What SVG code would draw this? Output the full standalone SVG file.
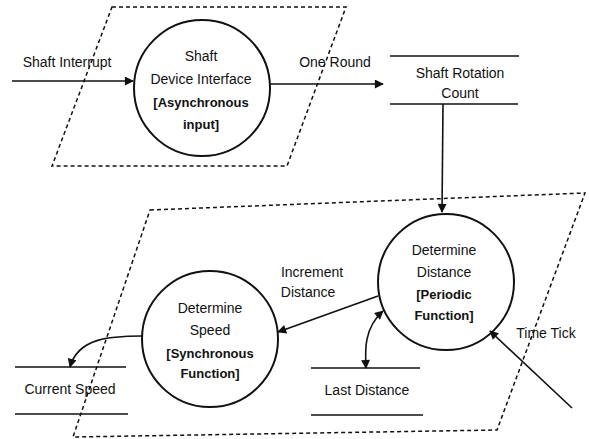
<svg xmlns="http://www.w3.org/2000/svg" width="589" height="439" viewBox="0 0 589 439">
<style>
.t{font-family:"Liberation Sans",Arial,sans-serif;font-size:14px;fill:#111;text-anchor:middle}
.b{font-weight:bold;font-size:13px}
.bound{fill:none;stroke:#111;stroke-width:1.5;stroke-dasharray:4 3}
.proc{fill:none;stroke:#111;stroke-width:2}
.store{stroke:#111;stroke-width:1.5}
.flow{fill:none;stroke:#111;stroke-width:1.6}
</style>
<defs>
<marker id="ah" viewBox="0 0 10 10" refX="9" refY="5" markerWidth="10" markerHeight="9" markerUnits="userSpaceOnUse" orient="auto-start-reverse">
<path d="M0,0 L10,5 L0,10 z" fill="#111"/>
</marker>
</defs>
<rect width="589" height="439" fill="#fff"/>
<g id="boundaries">
<polygon class="bound" points="112,7 346,7 287,166 52,166"/>
<polygon class="bound" points="150,210 585,193 497,430 73,437"/>
</g>
<g id="shaft-device-interface">
<circle class="proc" cx="202" cy="88" r="68"/>
<text class="t" x="201" y="61">Shaft</text>
<text class="t" x="201" y="84">Device Interface</text>
<text class="t b" x="201" y="107">[Asynchronous</text>
<text class="t b" x="201" y="129">input]</text>
</g>
<g id="shaft-rotation-count">
<line class="store" x1="390" y1="56" x2="519" y2="56"/>
<line class="store" x1="390" y1="104" x2="518" y2="104"/>
<text class="t" x="460" y="78">Shaft Rotation</text>
<text class="t" x="460" y="98">Count</text>
</g>
<g id="determine-distance">
<circle class="proc" cx="446" cy="282" r="68"/>
<text class="t" x="444" y="255">Determine</text>
<text class="t" x="444" y="277">Distance</text>
<text class="t b" x="444" y="299">[Periodic</text>
<text class="t b" x="444" y="320">Function]</text>
</g>
<g id="determine-speed">
<circle class="proc" cx="210" cy="339" r="68"/>
<text class="t" x="210" y="313">Determine</text>
<text class="t" x="210" y="335">Speed</text>
<text class="t b" x="210" y="358">[Synchronous</text>
<text class="t b" x="210" y="378">Function]</text>
</g>
<g id="current-speed">
<line class="store" x1="15" y1="367" x2="126" y2="367"/>
<line class="store" x1="15" y1="414" x2="128" y2="414"/>
<text class="t" x="70" y="394">Current Speed</text>
</g>
<g id="last-distance">
<line class="store" x1="311" y1="368" x2="420" y2="368"/>
<line class="store" x1="311" y1="415" x2="423" y2="415"/>
<text class="t" x="367" y="395">Last Distance</text>
</g>
<g id="connectors">
<line class="flow" x1="12" y1="81" x2="133" y2="81" marker-end="url(#ah)"/>
<line class="flow" x1="270" y1="84" x2="383" y2="84" stroke-width="2.5" marker-end="url(#ah)"/>
<line class="flow" x1="443" y1="104" x2="442" y2="212" marker-end="url(#ah)"/>
<line class="flow" x1="378" y1="296" x2="278" y2="332" marker-end="url(#ah)"/>
<path class="flow" d="M142,336 C110,336 78,338 70,367" marker-end="url(#ah)"/>
<path class="flow" d="M383,311 C364,328 365,350 366,368" marker-start="url(#ah)" marker-end="url(#ah)"/>
<line class="flow" x1="572" y1="408" x2="490" y2="331" marker-end="url(#ah)"/>
<text class="t" x="67" y="67">Shaft Interrupt</text>
<text class="t" x="335" y="67">One Round</text>
<text class="t" x="312" y="277">Increment</text>
<text class="t" x="308" y="297">Distance</text>
<text class="t" x="546" y="338">Time Tick</text>
</g>
</svg>
